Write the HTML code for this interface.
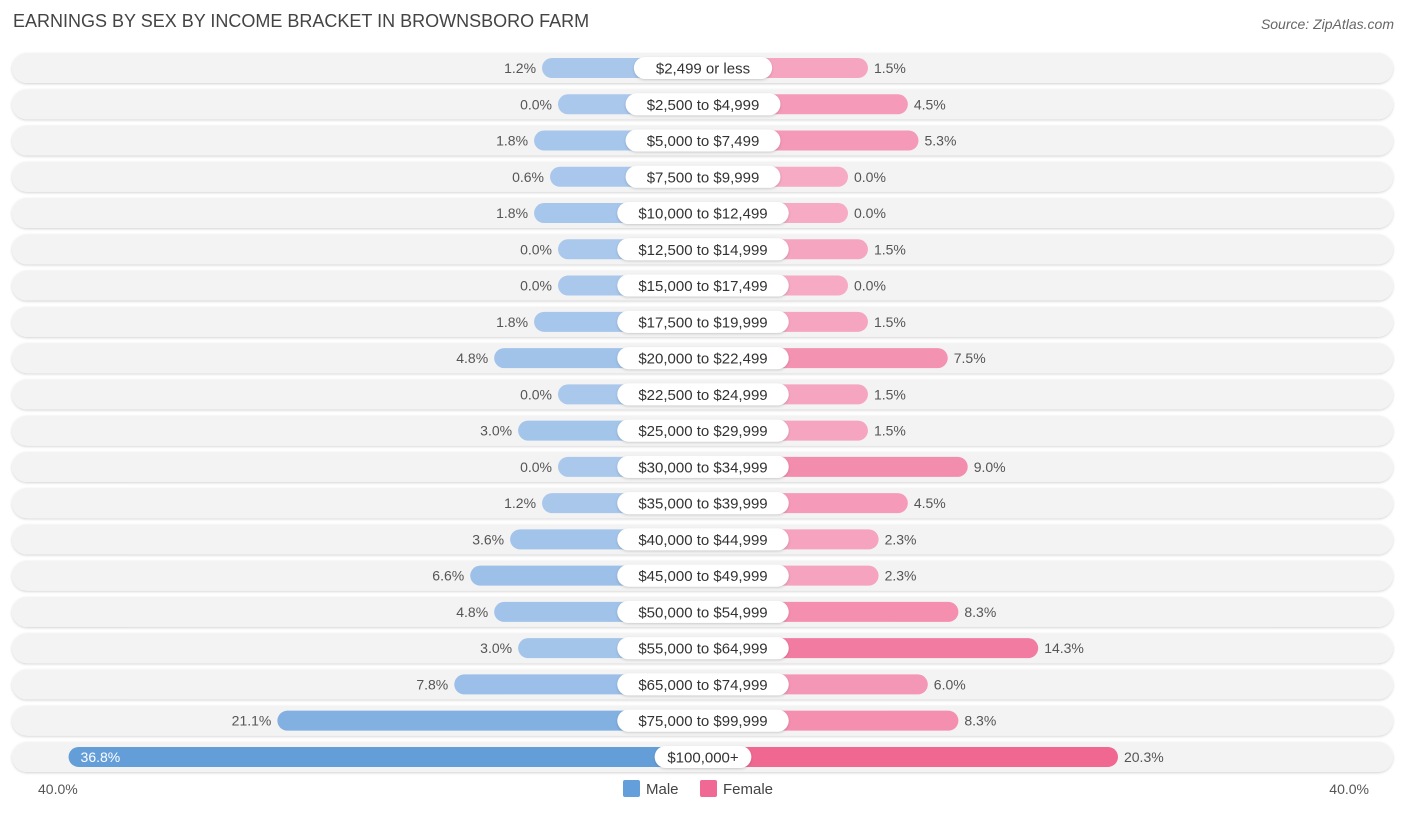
<!DOCTYPE html>
<html><head><meta charset="utf-8"><style>
body{margin:0;width:1406px;height:813px;background:#fff;font-family:"Liberation Sans",sans-serif;overflow:hidden;position:relative}
.t{position:absolute;left:13px;top:11px;font-size:18px;color:#444}
.src{position:absolute;right:12px;top:16px;font-size:14px;color:#666;font-style:italic}
</style></head><body>
<div class="t">EARNINGS BY SEX BY INCOME BRACKET IN BROWNSBORO FARM</div>
<div class="src">Source: ZipAtlas.com</div>
<svg id="c" width="1406" height="813" style="position:absolute;left:0;top:0"></svg>
<script>
const categories=["$2,499 or less","$2,500 to $4,999","$5,000 to $7,499","$7,500 to $9,999","$10,000 to $12,499","$12,500 to $14,999","$15,000 to $17,499","$17,500 to $19,999","$20,000 to $22,499","$22,500 to $24,999","$25,000 to $29,999","$30,000 to $34,999","$35,000 to $39,999","$40,000 to $44,999","$45,000 to $49,999","$50,000 to $54,999","$55,000 to $64,999","$65,000 to $74,999","$75,000 to $99,999","$100,000+"];
const male=[1.2,0.0,1.8,0.6,1.8,0.0,0.0,1.8,4.8,0.0,3.0,0.0,1.2,3.6,6.6,4.8,3.0,7.8,21.1,36.8];
const female=[1.5,4.5,5.3,0.0,0.0,1.5,0.0,1.5,7.5,1.5,1.5,9.0,4.5,2.3,2.3,8.3,14.3,6.0,8.3,20.3];
const axisLabels=["40.0%","40.0%"];
const NS="http://www.w3.org/2000/svg",svg=document.getElementById("c");
const cx=703,base=145,k=13.3,y0=68,dy=36.26;
const xM=v=>cx-base-v*k, xF=v=>cx+base+v*k, yR=i=>y0+i*dy;
function el(t,a,p){const e=document.createElementNS(NS,t);for(const q in a)e.setAttribute(q,a[q]);(p||svg).appendChild(e);return e;}
function mix(a,b,t){return "rgb("+a.map((x,i)=>Math.round(x+(b[i]-x)*t)).join(",")+")";}
const defs=el("defs",{});
const f=el("filter",{id:"sh",x:"-5%",y:"-50%",width:"110%",height:"200%"},defs);
el("feDropShadow",{dx:0,dy:1,stdDeviation:1.2,"flood-color":"#000","flood-opacity":0.18},f);
categories.forEach((c,i)=>{
  const y=yR(i);
  const g=el("g",{});
  
  
  el("rect",{x:12,y:y-15,width:1381,height:30,rx:15,fill:"#f3f3f3",filter:"url(#sh)"},g);
  const mt=Math.min(1,male[i]/36.8),ft=Math.min(1,female[i]/20.3);
  const mb=el("rect",{x:xM(male[i]),y:y-10,width:cx-xM(male[i]),height:20,rx:10,fill:mix([170,200,236],[100,158,216],mt)},g);
  
  
  const fb=el("rect",{x:cx,y:y-10,width:xF(female[i])-cx,height:20,rx:10,fill:mix([246,170,196],[240,104,146],ft)},g);
  
  
  const w=c.length*8.3+22;
  const lp=el("rect",{x:cx-w/2,y:y-11,width:w,height:22,rx:11,fill:"#fff",filter:"url(#sh)"},g);
  
  
  const lt=el("text",{x:cx,y:y+5.5,"text-anchor":"middle","font-size":15,fill:"#333"},g);lt.textContent=c;
  
  
  const inside=male[i]>30;
  const mv=el("text",{x:inside?xM(male[i])+12:xM(male[i])-6,y:y+5,"text-anchor":inside?"start":"end","font-size":14,fill:inside?"#fff":"#555"},g);
  mv.textContent=male[i].toFixed(1)+"%";
  
  
  const fv=el("text",{x:xF(female[i])+6,y:y+5,"font-size":14,fill:"#555"},g);
  fv.textContent=female[i].toFixed(1)+"%";
  
  
});
const a1=el("text",{x:38,y:794,"font-size":14,fill:"#555"});a1.textContent=axisLabels[0];


const a2=el("text",{x:1369,y:794,"font-size":14,fill:"#555","text-anchor":"end"});a2.textContent=axisLabels[1];


const lg=el("g",{});


el("rect",{x:623,y:780,width:17,height:17,rx:2,fill:"#659fdb"},lg);
const l1=el("text",{x:646,y:794,"font-size":15,fill:"#444"},lg);l1.textContent="Male";


el("rect",{x:700,y:780,width:17,height:17,rx:2,fill:"#f06894"},lg);
const l2=el("text",{x:723,y:794,"font-size":15,fill:"#444"},lg);l2.textContent="Female";


</script>
</body></html>
